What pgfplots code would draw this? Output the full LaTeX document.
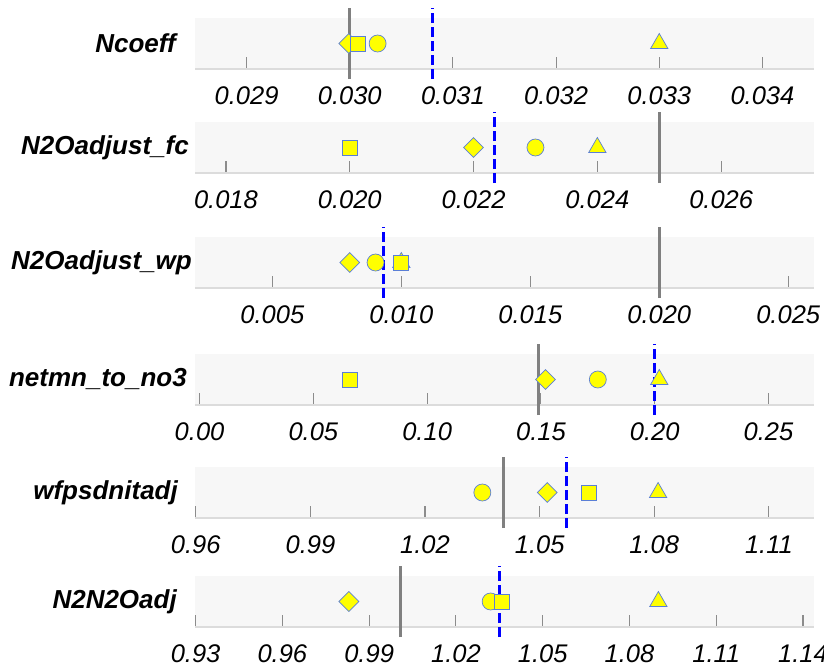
\documentclass[border=0pt]{standalone}
\usepackage{fontspec}
\setmainfont{Liberation Sans}
\usepackage{pgfplots}
\pgfplotsset{compat=1.18}

\definecolor{bandgray}{HTML}{F7F7F7}
\definecolor{baseline}{HTML}{DCDCDC}
\definecolor{tickgray}{HTML}{8C8C8C}
\definecolor{defgray}{HTML}{808080}
\definecolor{edgeblue}{HTML}{5B7FD6}
\definecolor{markyellow}{HTML}{FFFF00}
\definecolor{optblue}{HTML}{0000FF}

\newcommand{\tickfont}{\fontsize{25.5}{30}\selectfont\itshape}
\newcommand{\namefont}{\fontsize{26}{30}\selectfont\bfseries\itshape}

\pgfplotsset{
  panel/.style={
    scale only axis, width=619pt, height=51pt,
    anchor=south west, clip=false,
    ymin=0, ymax=1, ytick=\empty,
    axis y line=none, axis x line*=bottom,
    axis background/.style={fill=bandgray},
    x axis line style={draw=baseline, line width=1.5pt, -},
    xtick align=inside, major tick length=12pt,
    every tick/.style={tickgray, line width=1.1pt},
    xticklabel style={font=\tickfont, anchor=center, yshift=-27pt},
    /pgf/number format/assume math mode=true,
  },
  tri/.style={only marks, mark=triangle*, mark size=10pt, draw=edgeblue, fill=markyellow, line width=0.7pt},
  dia/.style={only marks, mark=square*, mark size=7pt, mark options={rotate=45}, draw=edgeblue, fill=markyellow, line width=0.7pt},
  circ/.style={only marks, mark=*, mark size=8.5pt, draw=edgeblue, fill=markyellow, line width=0.7pt},
  sq/.style={only marks, mark=square*, mark size=7.5pt, draw=edgeblue, fill=markyellow, line width=0.7pt},
  defline/.style={no markers, defgray, line width=3pt},
  optline/.style={no markers, optblue, line width=3pt, dash pattern=on 10pt off 4pt},
}
% parameter name to the left of a panel
\newcommand{\pname}[2]{\node[anchor=east, font=\namefont, inner sep=0pt] at ([xshift=#1]rel axis cs:0,0.5) {#2};}

\begin{document}
\begin{tikzpicture}

% Ncoeff
\begin{axis}[panel, at={(195pt,-69pt)}, xmin=0.0285, xmax=0.0345,
  xtick={0.029,0.030,0.031,0.032,0.033,0.034},
  xticklabels={0.029,0.030,0.031,0.032,0.033,0.034}]
  \addplot[tri]  coordinates {(0.0330,0.5)};
  \addplot[dia]  coordinates {(0.02999,0.5)};
  \addplot[circ] coordinates {(0.03027,0.5)};
  \addplot[sq]   coordinates {(0.03008,0.5)};
  \addplot[defline] coordinates {(0.0300,-0.2) (0.0300,1.2)};
  \addplot[optline] coordinates {(0.03080,-0.2) (0.03080,1.2)};
  \pname{-19pt}{Ncoeff}
\end{axis}

% N2Oadjust_fc
\begin{axis}[panel, at={(195pt,-173pt)}, xmin=0.0175, xmax=0.0275,
  xtick={0.018,0.020,0.022,0.024,0.026},
  xticklabels={0.018,0.020,0.022,0.024,0.026}]
  \addplot[tri]  coordinates {(0.024,0.5)};
  \addplot[dia]  coordinates {(0.022,0.5)};
  \addplot[circ] coordinates {(0.023,0.5)};
  \addplot[sq]   coordinates {(0.020,0.5)};
  \addplot[defline] coordinates {(0.025,-0.2) (0.025,1.2)};
  \addplot[optline] coordinates {(0.02234,-0.2) (0.02234,1.2)};
  \pname{-6pt}{N2Oadjust\_fc}
\end{axis}

% N2Oadjust_wp
\begin{axis}[panel, at={(195pt,-288pt)}, xmin=0.002, xmax=0.026,
  xtick={0.005,0.010,0.015,0.020,0.025},
  xticklabels={0.005,0.010,0.015,0.020,0.025}]
  \addplot[tri]  coordinates {(0.010,0.5)};
  \addplot[dia]  coordinates {(0.008,0.5)};
  \addplot[circ] coordinates {(0.009,0.5)};
  \addplot[sq]   coordinates {(0.010,0.5)};
  \addplot[defline] coordinates {(0.020,-0.2) (0.020,1.2)};
  \addplot[optline] coordinates {(0.0093,-0.2) (0.0093,1.2)};
  \pname{-3pt}{N2Oadjust\_wp}
\end{axis}

% netmn_to_no3
\begin{axis}[panel, at={(195pt,-405pt)}, xmin=-0.002, xmax=0.270,
  xtick={0,0.05,0.10,0.15,0.20,0.25},
  xticklabels={0.00,0.05,0.10,0.15,0.20,0.25}]
  \addplot[tri]  coordinates {(0.202,0.5)};
  \addplot[dia]  coordinates {(0.152,0.5)};
  \addplot[circ] coordinates {(0.175,0.5)};
  \addplot[sq]   coordinates {(0.066,0.5)};
  \addplot[defline] coordinates {(0.149,-0.2) (0.149,1.2)};
  \addplot[optline] coordinates {(0.200,-0.2) (0.200,1.2)};
  \pname{-8pt}{netmn\_to\_no3}
\end{axis}

% wfpsdnitadj
\begin{axis}[panel, at={(195pt,-518pt)}, xmin=0.9598, xmax=1.1218,
  xtick={0.96,0.99,1.02,1.05,1.08,1.11},
  xticklabels={0.96,0.99,1.02,1.05,1.08,1.11}]
  \addplot[tri]  coordinates {(1.081,0.5)};
  \addplot[dia]  coordinates {(1.052,0.5)};
  \addplot[circ] coordinates {(1.035,0.5)};
  \addplot[sq]   coordinates {(1.063,0.5)};
  \addplot[defline] coordinates {(1.0405,-0.2) (1.0405,1.2)};
  \addplot[optline] coordinates {(1.057,-0.2) (1.057,1.2)};
  \pname{-17pt}{wfpsdnitadj}
\end{axis}

% N2N2Oadj
\begin{axis}[panel, at={(195pt,-627pt)}, xmin=0.9298, xmax=1.1438,
  xtick={0.93,0.96,0.99,1.02,1.05,1.08,1.11,1.14},
  xticklabels={0.93,0.96,0.99,1.02,1.05,1.08,1.11,1.14}]
  \addplot[tri]  coordinates {(1.090,0.5)};
  \addplot[dia]  coordinates {(0.983,0.5)};
  \addplot[circ] coordinates {(1.032,0.5)};
  \addplot[sq]   coordinates {(1.036,0.5)};
  \addplot[defline] coordinates {(1.001,-0.2) (1.001,1.2)};
  \addplot[optline] coordinates {(1.035,-0.2) (1.035,1.2)};
  \pname{-18pt}{N2N2Oadj}
\end{axis}

\pgfresetboundingbox
\useasboundingbox (0,0) rectangle (824pt,-668pt);
\end{tikzpicture}
\end{document}
